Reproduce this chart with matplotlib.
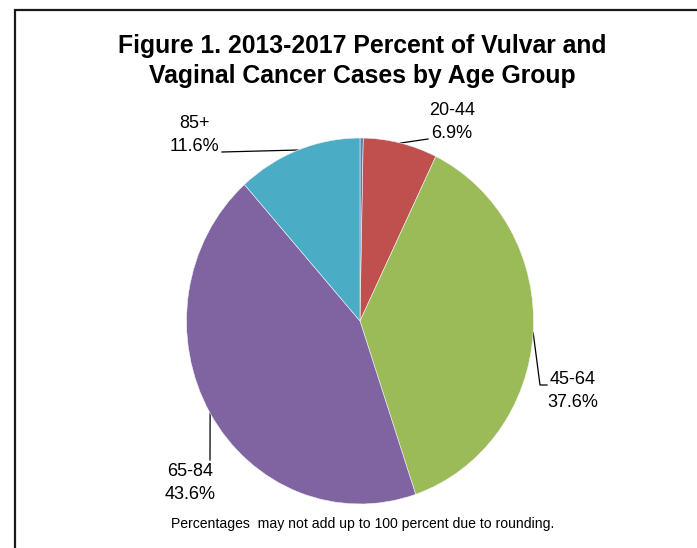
import numpy as np
import matplotlib
matplotlib.use("Agg")
import matplotlib.pyplot as plt

plt.rcParams['font.family'] = ['Liberation Sans', 'DejaVu Sans']

# Age groups and share of cases (percent)
age_groups = ["<20", "20-44", "45-64", "65-84", "85+"]
percents = [0.3, 6.9, 37.6, 43.6, 11.6]
colors = ["#4F81BD", "#C0504D", "#9BBB59", "#8064A2", "#4BACC6"]

title = "Figure 1. 2013-2017 Percent of Vulvar and\nVaginal Cancer Cases by Age Group"
footnote = "Percentages  may not add up to 100 percent due to rounding."

W, H = 697, 548
fig = plt.figure(figsize=(W / 100, H / 100), dpi=100)
fig.patch.set_facecolor("white")

# overlay in pixel coordinates for frame, text and leader lines
ov = fig.add_axes([0, 0, 1, 1])
ov.set_xlim(0, W)
ov.set_ylim(H, 0)
ov.axis("off")

# pie axes (slightly taller than wide)
px0, px1, py0, py1 = 186.5, 533.5, 138, 504
pax = fig.add_axes([px0 / W, 1 - py1 / H, (px1 - px0) / W, (py1 - py0) / H])
wedges, _ = pax.pie(percents, colors=colors, startangle=90, counterclock=False,
                    wedgeprops=dict(linewidth=0.4, edgecolor="#f4f4f4"))
pax.set_aspect("auto")
pax.set_xlim(-1, 1)
pax.set_ylim(-1, 1)
pax.axis("off")

# outer frame
ov.plot([15, 15, W + 5], [H + 5, 10, 10], color="#1a1a1a", lw=1.6,
        solid_joinstyle="miter")

ov.text(362, 61, title, ha="center", va="center", fontsize=17.8,
        fontweight="bold", linespacing=1.32)
ov.text(363, 524, footnote, ha="center", va="center", fontsize=10.1)


def anchor(w):
    mid = np.deg2rad((w.theta1 + w.theta2) / 2)
    disp = pax.transData.transform((np.cos(mid), np.sin(mid)))
    return ov.transData.inverted().transform(disp)


# label block centers and leader line paths
labels = {
    "20-44": dict(xy=(452, 122), path=[(428, 139)]),
    "45-64": dict(xy=(573, 391), path=[(540, 385), (547, 385)]),
    "65-84": dict(xy=(190.5, 483), path=[(210, 460)]),
    "85+": dict(xy=(194, 135), path=[(222, 152)]),
}

for w, name, p in zip(wedges, age_groups, percents):
    if name not in labels:
        continue
    info = labels[name]
    ax_, ay_ = anchor(w)
    xs = [ax_] + [q[0] for q in info["path"]]
    ys = [ay_] + [q[1] for q in info["path"]]
    ov.plot(xs, ys, color="black", lw=0.9)
    ov.text(info["xy"][0], info["xy"][1], f"{name}\n{p:.1f}%", ha="center",
            va="center", fontsize=13, linespacing=1.42)

fig.savefig("out.png", dpi=100, facecolor="white")
